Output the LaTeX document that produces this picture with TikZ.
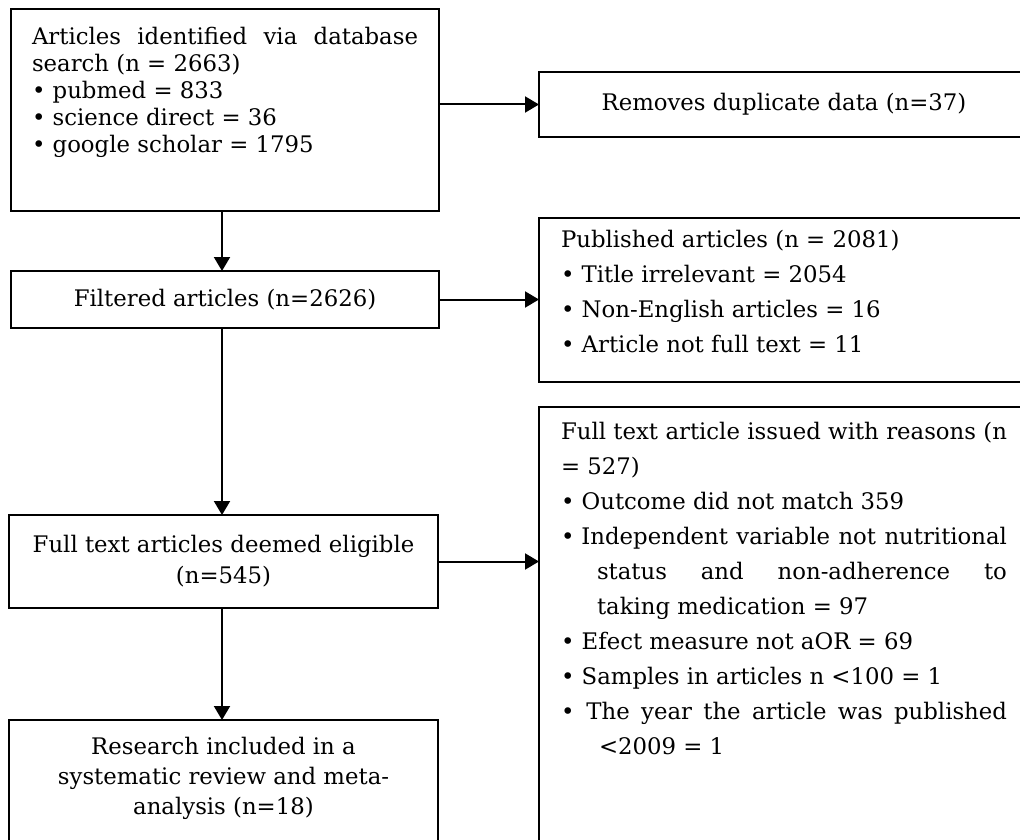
\documentclass[tikz,border=0pt]{standalone}
\usepackage{fontspec}
\setmainfont{DejaVu Serif}
\usetikzlibrary{arrows.meta}
\begin{document}
\begin{tikzpicture}[x=1pt,y=-1pt,
  box/.style={draw, line width=2pt, inner sep=0pt, outer sep=0pt, anchor=north west},
  tight/.style={font=\fontsize{22.8}{27}\selectfont},
  loose/.style={font=\fontsize{22.8}{35}\selectfont},
  arr/.style={line width=2pt, -{Triangle[length=14pt,width=16pt]}}]
\useasboundingbox (0,0) rectangle (1020,840);
\clip (0,0) rectangle (1020,840);
\coordinate (colx) at (222,0);

\node[box, tight, inner xsep=21pt] (ident) at (11,9)
 {\parbox[c][202pt][t]{386pt}{\rule{0pt}{36pt}\makebox[\linewidth][s]{Articles identified via database}\par
  search (n = 2663)\par
  • pubmed = 833\par
  • science direct = 36\par
  • google scholar = 1795}};

\node[box, tight, minimum width=490pt, minimum height=65pt] (dup) at (539,72)
 {Removes duplicate data (n=37)};

\node[box, tight, minimum width=428pt, minimum height=57pt] (filt) at (11,271)
 {Filtered articles (n=2626)};

\node[box, loose, inner xsep=22pt] (pub) at (539,218)
 {\parbox[c][164pt][t]{446pt}{\rule{0pt}{29pt}Published articles (n = 2081)\par
  • Title irrelevant = 2054\par
  • Non-English articles = 16\par
  • Article not full text = 11}};

\node[box, font=\fontsize{22.8}{31}\selectfont, minimum width=429pt, minimum height=93pt, align=center] (elig) at (9,515)
 {Full text articles deemed eligible\\(n=545)};

\node[box, loose, inner xsep=22pt] (full) at (539,407)
 {\parbox[c][453pt][t]{446pt}{\rule{0pt}{32pt}\makebox[\linewidth][s]{Full text article issued with reasons (n}\par
  = 527)\par
  • Outcome did not match 359\par
  \makebox[\linewidth][s]{•\hspace{7pt}Independent variable not nutritional}\par
  \hspace*{36pt}\makebox[\dimexpr\linewidth-36pt\relax][s]{status and non-adherence to}\par
  \hspace*{36pt}taking medication = 97\par
  • Efect measure not aOR = 69\par
  • Samples in articles n <100 = 1\par
  \makebox[\linewidth][s]{•\hspace{12pt}The year the article was published}\par
  \hspace*{38pt}<2009 = 1}};

\node[box, font=\fontsize{22.8}{30}\selectfont] (incl) at (9,720)
 {\parbox[c][140pt][t]{429pt}{\centering\rule{0pt}{34pt}Research included in a\par
  systematic review and meta-\par
  analysis (n=18)}};

\draw[arr] (ident.south -| colx) -- (filt.north -| colx);
\draw[arr] (filt.south -| colx) -- (elig.north -| colx);
\draw[arr] (elig.south -| colx) -- (incl.north -| colx);
\draw[arr] (ident.east |- dup.west) -- (dup.west);
\draw[arr] (filt.east) -- (filt.east -| pub.west);
\draw[arr] (elig.east) -- (elig.east -| full.west);
\end{tikzpicture}
\end{document}
